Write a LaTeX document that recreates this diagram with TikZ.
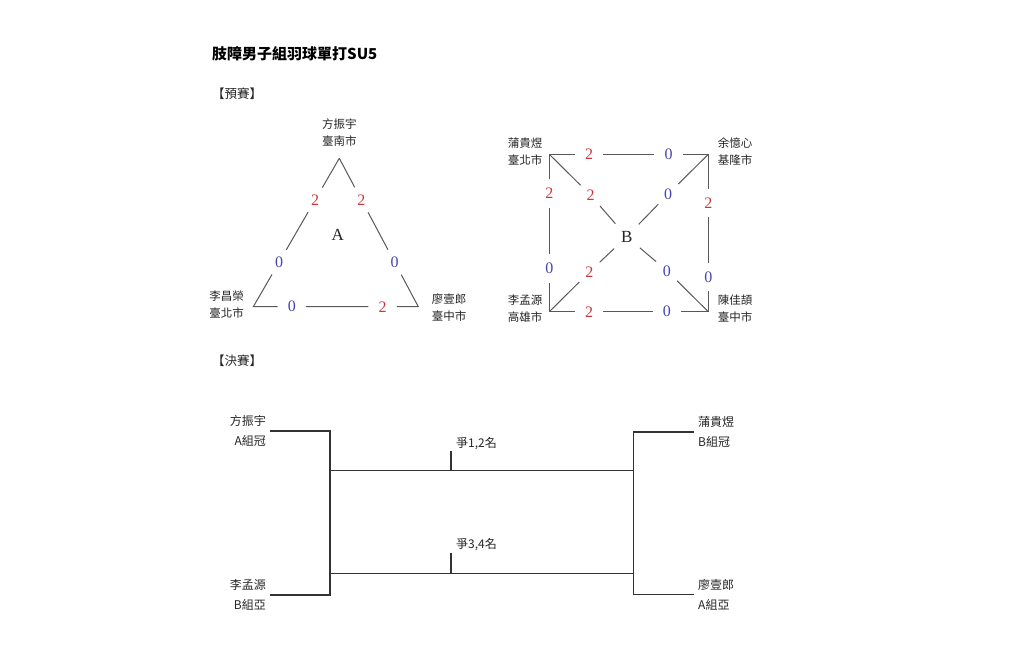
\documentclass[tikz,border=0pt]{standalone}
\usepackage{fontspec}
\newfontfamily\cjk{Noto Sans CJK TC}
\newfontfamily\digfont{Liberation Serif}
\definecolor{scred}{RGB}{205,55,60}
\definecolor{scblue}{RGB}{70,70,175}
\begin{document}
\begin{tikzpicture}[x=1pt,y=-1pt,
  pname/.style={font=\cjk\fontsize{11.5}{17}\selectfont, align=center, inner sep=0pt, text=black!85},
  fname/.style={font=\cjk\fontsize{12}{20}\selectfont, inner sep=4pt, text=black!85},
  sc/.style={circle, inner sep=0pt, minimum size=28pt, font=\digfont\fontsize{16}{16}\selectfont},
  scr/.style={sc, text=scred},
  scb/.style={sc, text=scblue},
  grp/.style={circle, inner sep=0pt, minimum size=34pt, font=\digfont\fontsize{17}{17}\selectfont, text=black!85},
  edge/.style={draw=black!65, line width=1pt},
  brk/.style={draw=black!80, line width=1.2pt},
  head/.style={font=\cjk\fontsize{12.5}{14}\selectfont, inner sep=0pt, anchor=west, text=black!85}
]
\fill[white] (0,0) rectangle (1024,656);
\useasboundingbox (0,0) rectangle (1024,656);

% titles
\node[font=\cjk\bfseries\fontsize{15}{15}\selectfont, inner sep=0pt, anchor=west] (title) at (212,54) {肢障男子組羽球單打SU5};
\node[head] (prelim) at (212,94) {【預賽】};
\node[head] (final) at (212,361) {【決賽】};

% ---------- group A ----------
\coordinate (tA) at (339.3,158.3);
\coordinate (tL) at (253.3,306.7);
\coordinate (tR) at (418.3,306.7);
\node[pname] (pa1) at (339.3,133) {方振宇\\臺南市};
\node[pname] (pa2) at (226.7,305) {李昌榮\\臺北市};
\node[pname] (pa3) at (449,308) {廖壹郎\\臺中市};
\node[grp] (ga) at (337.7,235) {A};
\path (tA) -- (tL) node[scr,pos=0.28] (a1) {2} node[scb,pos=0.70] (a2) {0};
\path (tA) -- (tR) node[scr,pos=0.28] (a3) {2} node[scb,pos=0.70] (a4) {0};
\path (tL) -- (tR) node[scb,pos=0.233] (a5) {0} node[scr,pos=0.784] (a6) {2};
\draw[edge] (tA) -- (a1) -- (a2) -- (tL) -- (a5) -- (a6) -- (tR) -- (a4) -- (a3) -- (tA);

% ---------- group B ----------
\coordinate (sTL) at (549.3,154.3);
\coordinate (sTR) at (708.3,154.3);
\coordinate (sBL) at (549.3,311.7);
\coordinate (sBR) at (708.3,311.7);
\node[pname] (pb1) at (525,152) {蒲貴煜\\臺北市};
\node[pname] (pb2) at (735,151.5) {余憶心\\基隆市};
\node[pname] (pb3) at (525,309) {李孟源\\高雄市};
\node[pname] (pb4) at (735,309) {陳佳頡\\臺中市};
\node[grp] (gb) at (626.7,236.7) {B};
\path (sTL) -- (sTR) node[scr,pos=0.25] (b1) {2} node[scb,pos=0.75] (b2) {0};
\path (sTL) -- (sBL) node[scr,pos=0.25] (b3) {2} node[scb,pos=0.725] (b4) {0};
\path (sTR) -- (sBR) node[scr,pos=0.31] (b5) {2} node[scb,pos=0.78] (b6) {0};
\path (sBL) -- (sBR) node[scr,pos=0.25] (b7) {2} node[scb,pos=0.74] (b8) {0};
\path (sTL) -- (sBR) node[scr,pos=0.26] (b9) {2} node[scb,pos=0.74] (b10) {0};
\path (sTR) -- (sBL) node[scb,pos=0.252] (b11) {0} node[scr,pos=0.748] (b12) {2};
\draw[edge] (sTL) -- (b1) -- (b2) -- (sTR) -- (b5) -- (b6) -- (sBR) -- (b8) -- (b7) -- (sBL) -- (b4) -- (b3) -- (sTL);
\draw[edge] (sTL) -- (b9) -- (gb) -- (b10) -- (sBR);
\draw[edge] (sTR) -- (b11) -- (gb) -- (b12) -- (sBL);

% ---------- final ----------
\node[fname, align=right, anchor=east] (f1) at (270,431) {方振宇\\A組冠};
\node[fname, align=right, anchor=east] (f2) at (270,595) {李孟源\\B組亞};
\node[fname, align=left, anchor=west] (f3) at (694,432) {蒲貴煜\\B組冠};
\node[fname, align=left, anchor=west] (f4) at (694,594.5) {廖壹郎\\A組亞};
\coordinate (j1) at (330,431);
\coordinate (j2) at (330,595);
\coordinate (j3) at (633.3,432);
\coordinate (j4) at (633.3,594.5);
\coordinate (m1) at (330,470.5);
\coordinate (m2) at (633.3,470.5);
\coordinate (m3) at (330,573.5);
\coordinate (m4) at (633.3,573.5);
\coordinate (k1) at (451,470.5);
\coordinate (k1t) at (451,451);
\coordinate (k2) at (451,573.5);
\coordinate (k2t) at (451,553);
\draw[brk] (f1) -- (j1) -- (j2) -- (f2);
\draw[brk] (f3) -- (j3) -- (j4) -- (f4);
\draw[brk] (m1) -- (m2);
\draw[brk] (m3) -- (m4);
\draw[brk] (k1) -- (k1t);
\draw[brk] (k2) -- (k2t);
\node[font=\cjk\fontsize{12}{14}\selectfont, inner sep=0pt, anchor=west, text=black!85] (l12) at (456,443.5) {爭1,2名};
\node[font=\cjk\fontsize{12}{14}\selectfont, inner sep=0pt, anchor=west, text=black!85] (l34) at (456,545) {爭3,4名};
\end{tikzpicture}
\end{document}
